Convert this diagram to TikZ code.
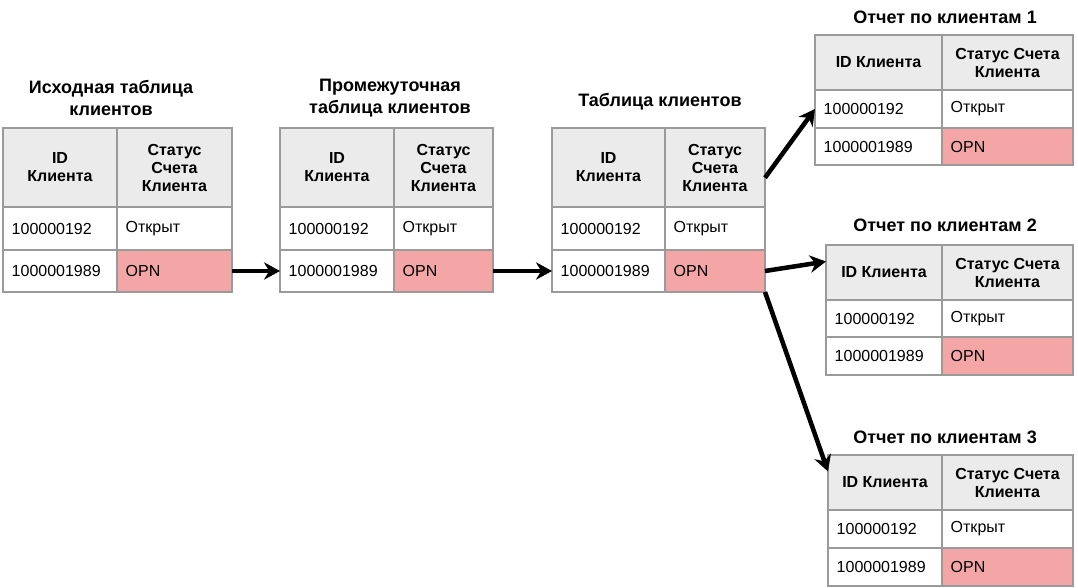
\documentclass[tikz,border=0pt]{standalone}
\usepackage{fontspec}
\setmainfont{Liberation Sans}
\usetikzlibrary{arrows.meta,calc}
\definecolor{hdr}{HTML}{EBEBEB}
\definecolor{opn}{HTML}{F4A6A6}
\definecolor{brd}{HTML}{9A9A9A}
\tikzset{
  grid/.style={draw=brd,line width=0.9pt},
  hd/.style={font=\bfseries\fontsize{12}{13.5}\selectfont,align=center},
  dt/.style={font=\fontsize{12}{14}\selectfont,anchor=west},
  ttl/.style={font=\bfseries\fontsize{13.5}{16}\selectfont,align=center},
  arr/.style={line width=3.4pt,-{Stealth[length=12pt,width=13pt]}}
}
% #1 prefix, #2 x0, #3 xs, #4 x1, #5 y0, #6 yh, #7 y1, #8 y2, #9 type (m/r)
\newcommand\drawtab[9]{%
  \if#9m\def\hA{ID\\Клиента}\def\hB{Статус\\Счета\\Клиента}%
  \else\def\hA{ID Клиента}\def\hB{Статус Счета\\Клиента}\fi
  \fill[hdr] (#2,#5) rectangle (#4,#6);
  \fill[opn] (#3,#7) rectangle (#4,#8);
  \draw[grid] (#2,#5) rectangle (#4,#8);
  \draw[grid] (#2,#6) -- (#4,#6) (#2,#7) -- (#4,#7) (#3,#5) -- (#3,#8);
  \node[hd] (#1-h1) at ($(#2,#5)!0.5!(#3,#6)$) {\hA};
  \node[hd] (#1-h2) at ($(#3,#5)!0.5!(#4,#6)$) {\hB};
  \node[dt] (#1-a1) at ($(#2,#6)!0.5!(#2,#7)+(4,0)$) {100000192};
  \node[dt] (#1-a2) at ($(#3,#6)!0.5!(#3,#7)+(4,0)$) {Открыт};
  \node[dt] (#1-b1) at ($(#2,#7)!0.5!(#2,#8)+(4,0)$) {1000001989};
  \node[dt] (#1-b2) at ($(#3,#7)!0.5!(#3,#8)+(4,0)$) {OPN};
  \coordinate (#1-w2) at ($(#2,#7)!0.5!(#2,#8)$);
  \coordinate (#1-e2) at ($(#4,#7)!0.5!(#4,#8)$);
  \coordinate (#1-w1) at ($(#2,#6)!0.5!(#2,#7)$);
  \coordinate (#1-wh) at ($(#2,#5)!0.3!(#2,#6)$);
  \coordinate (#1-eh) at ($(#4,#5)!0.63!(#4,#6)$);
  \coordinate (#1-se) at (#4,#8);
}
\begin{document}
\begin{tikzpicture}[x=0.75pt,y=-0.75pt]
\useasboundingbox (0,0) rectangle (1078,588);
\drawtab{t1}{3}{117}{232}{128}{207}{250}{292}{m}
\drawtab{t2}{280}{394}{493}{128}{207}{250}{292}{m}
\drawtab{t3}{552}{665}{765}{128}{207}{250}{292}{m}
\drawtab{r1}{815}{942}{1073}{35}{90}{128}{165}{r}
\drawtab{r2}{826}{942}{1073}{245}{300}{337}{375}{r}
\drawtab{r3}{828}{942}{1073}{455}{510}{548}{586}{r}
\node[ttl] (ttl1) at (111,98) {Исходная таблица\\клиентов};
\node[ttl] (ttl2) at (390,98) {Промежуточная\\таблица клиентов};
\node[ttl] (ttl3) at (660,102) {Таблица клиентов};
\node[ttl] (ttl4) at (945,17) {Отчет по клиентам 1};
\node[ttl] (ttl5) at (945,225) {Отчет по клиентам 2};
\node[ttl] (ttl6) at (945,437) {Отчет по клиентам 3};
\draw[arr] (t1-e2) -- (t2-w2);
\draw[arr] (t2-e2) -- (t3-w2);
\draw[arr] (t3-eh) -- (r1-w1);
\draw[arr] (t3-e2) -- (r2-wh);
\draw[arr] (t3-se) -- (r3-wh);
\end{tikzpicture}
\end{document}
